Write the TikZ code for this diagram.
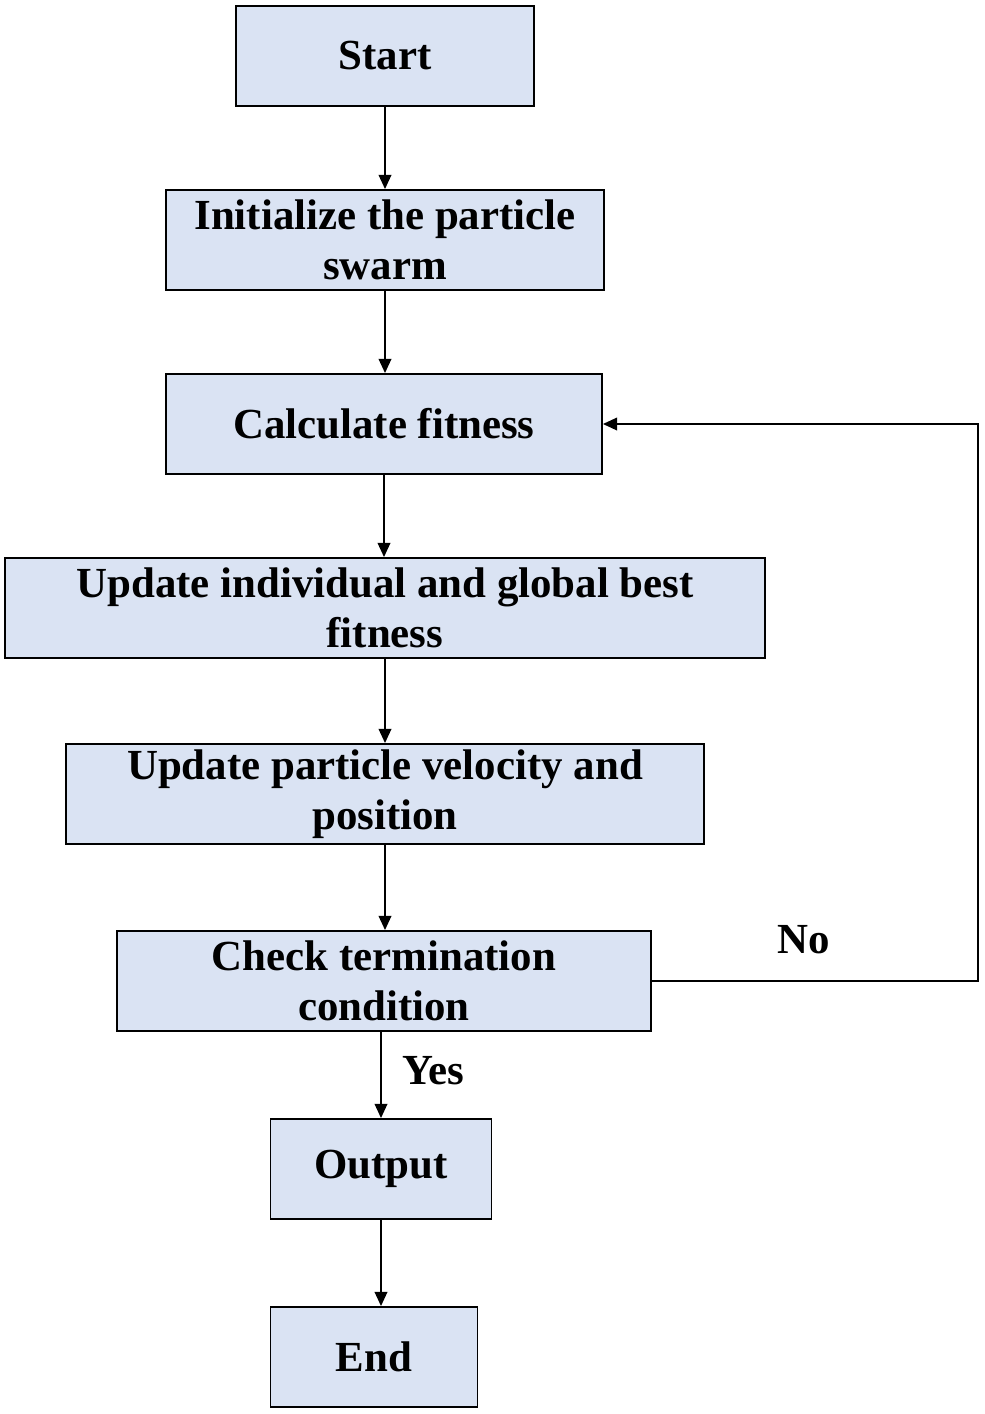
\documentclass[tikz,border=0pt]{standalone}
\usepackage{fontspec}
\setmainfont{Liberation Serif}
\usepackage{xcolor}
\usetikzlibrary{arrows.meta,positioning,calc}
\definecolor{boxfill}{HTML}{DAE3F3}

\begin{document}
\begin{tikzpicture}[font=\fontsize{30.5}{36}\selectfont\bfseries,
  stepbox/.style={rectangle, draw, line width=1.4pt, fill=boxfill, align=center, minimum height=2.5cm, inner sep=0pt},
  flow/.style={-{Triangle[length=10pt,width=9pt]}, line width=1pt}]
\useasboundingbox (0,0) rectangle (24.625,-35.35);
\node at (9.625,-1.4) [stepbox, minimum width=7.45cm] (S1) {Start};
\node at (9.625,-6.0) [stepbox, minimum width=10.95cm] (S2) {Initialize the particle\\swarm};
\node at (9.6,-10.6) [stepbox, minimum width=10.9cm] (S3) {Calculate fitness};
\node at (9.625,-15.2) [stepbox, minimum width=19cm] (S4) {Update individual and global best\\fitness};
\node at (9.625,-19.85) [stepbox, minimum width=15.95cm] (S5) {Update particle velocity and\\position};
\node at (9.6,-24.525) [stepbox, minimum width=13.35cm] (S6) {Check termination\\condition};
\node at (9.525,-29.225) [stepbox, minimum width=5.525cm] (S7) {Output};
\node at (9.35,-33.925) [stepbox, minimum width=5.175cm] (S8) {End};
\coordinate (R) at (24.45,-17);

\draw[flow] (S1) -- (S2);
\draw[flow] (S2.south) -- (S2.south |- S3.north);
\draw[flow] (S3.south) -- (S3.south |- S4.north);
\draw[flow] (S4) -- (S5);
\draw[flow] (S5.south) -- (S5.south |- S6.north);
\draw[flow] (S6.south -| S7.north) -- (S7.north) node[midway, right, xshift=0.4cm, yshift=0.1cm] (yes) {Yes};
\draw[flow] (S7.south) -- (S7.south |- S8.north);
\draw[flow] (S6.east) -| (R) |- (S3.east);
\node at (20.1,-23.5) (no) {No};
\end{tikzpicture}
\end{document}
